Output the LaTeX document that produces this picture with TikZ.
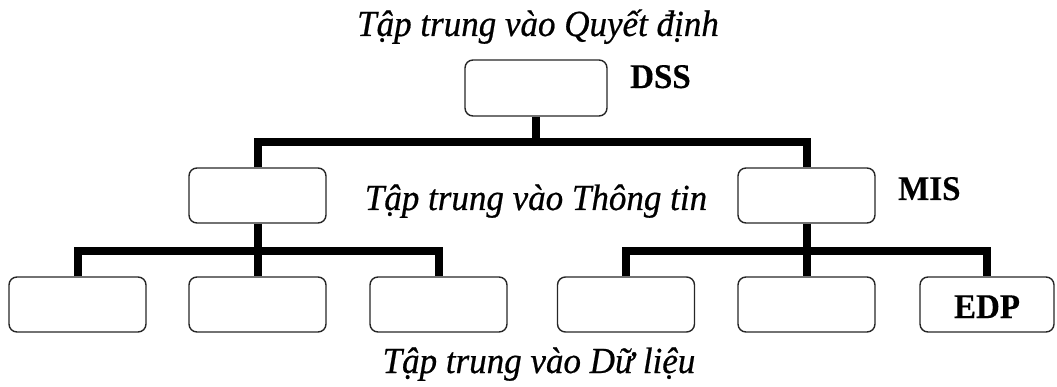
\documentclass[tikz,border=0pt]{standalone}
\usepackage{fontspec}
\setmainfont{Liberation Serif}[ItalicFeatures={FakeBold=0.6}, BoldFeatures={FakeBold=0.3}]
\begin{document}
\begin{tikzpicture}[x=1pt,y=-1pt,
  box/.style={draw=black!85, line width=1.4pt, rounded corners=8pt,
    minimum width=137pt, minimum height=55pt, inner sep=0pt},
  conn/.style={line width=8pt, line join=miter, line cap=butt},
  focus/.style={font=\fontsize{35}{40}\selectfont\itshape, anchor=base, inner sep=0pt, yscale=1.05},
  tag/.style={font=\fontsize{33}{38}\selectfont\bfseries, anchor=base west, inner sep=0pt, yscale=1.05}]
\useasboundingbox (0,0) rectangle (1057,387);

% levels of the hierarchy
\node[box, minimum width=142pt, minimum height=56pt] (dss) at (536,88) {};
\node[box] (m1) at (257.5,195.5) {};
\node[box] (m2) at (806.5,195.5) {};
\node[box] (b1) at (77.5,304.5) {};
\node[box] (b2) at (257.5,304.5) {};
\node[box] (b3) at (438.5,304.5) {};
\node[box] (b4) at (626,304.5) {};
\node[box] (b5) at (806.5,304.5) {};
\node[box, minimum width=134pt] (b6) at (987,304.5) {};
\node[tag, anchor=base] (edp) at (b6.center |- 0,318) {EDP};

% captions
\node[focus] (tq) at (538,36) {Tập trung vào Quyết định};
\node[focus] (tt) at (536,210) {Tập trung vào Thông tin};
\node[focus] (td) at (539,373) {Tập trung vào Dữ liệu};
\node[tag] (ldss) at (630,88) {DSS};
\node[tag] (lmis) at (898,200) {MIS};

% connectors
\coordinate (j1) at (536,142);
\coordinate (j2) at (257.5,251);
\coordinate (j3) at (806.5,251);
\draw[conn] (dss.south) -- (j1);
\draw[conn] (m1.north) |- (j1) -| (m2.north);
\draw[conn] (m1.south) -- (b2.north);
\draw[conn] (b1.north) |- (j2) -| (b3.north);
\draw[conn] (m2.south) -- (b5.north);
\draw[conn] (b4.north) |- (j3) -| (b6.north);
\end{tikzpicture}
\end{document}
